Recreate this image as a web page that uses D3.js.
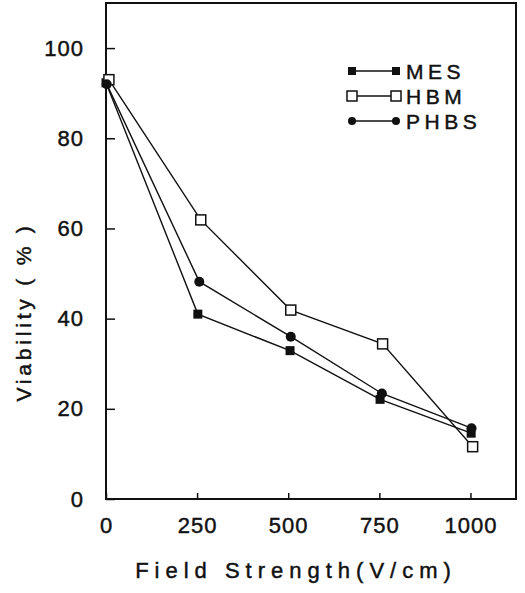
<!DOCTYPE html>
<html><head><meta charset="utf-8">
<script src="https://cdn.jsdelivr.net/npm/d3@7"></script>
<style>body{margin:0;background:#fff}svg{display:block}text{font-family:"Liberation Sans",Arial,sans-serif;fill:#111;stroke:#111;stroke-width:0.45px}</style>
</head><body><svg id="c" width="525" height="593"></svg>
<script>
const fieldStrength = [0, 250, 500, 750, 1000];
const mesX  = [0, 252, 505, 752, 1002];
const mesY  = [92.3, 41.0, 32.9, 22.1, 14.6];
const hbmX  = [8, 260, 507, 759, 1006];
const hbmY  = [93.0, 61.9, 41.9, 34.4, 11.6];
const phbsX = [2, 256, 507, 757, 1003];
const phbsY = [92.0, 48.2, 36.0, 23.4, 15.7];
const yTicks = [0, 20, 40, 60, 80, 100];
const seriesNames = ["MES", "HBM", "PHBS"];

const svg = d3.select("#c");
const x = d3.scaleLinear().domain([0, 1125]).range([106, 516]);
const y = d3.scaleLinear().domain([0, 110]).range([499, 3]);

// frame
svg.append("rect").attr("x", x(0)).attr("y", y(110)).attr("width", x(1125)-x(0)).attr("height", y(0)-y(110))
  .attr("fill","none").attr("stroke","#111").attr("stroke-width",2);

// y axis
const ya = svg.append("g").attr("transform",`translate(${x(0)},0)`)
  .call(d3.axisLeft(y).tickValues(yTicks).tickSize(-9).tickPadding(22).tickFormat(d3.format("d")));
ya.select(".domain").remove();
ya.selectAll("line").attr("stroke","#111").attr("stroke-width",1.5);
ya.selectAll("text").style("font-size","22px").style("letter-spacing","1px").attr("fill","#111");

// x axis
const xa = svg.append("g").attr("transform",`translate(0,${y(0)})`)
  .call(d3.axisBottom(x).tickValues(fieldStrength).tickSize(-6).tickPadding(18).tickFormat(d3.format("d")));
xa.select(".domain").remove();
xa.selectAll("line").attr("stroke","#111").attr("stroke-width",1.5);
xa.selectAll("text").style("font-size","22px").style("letter-spacing","1px").attr("fill","#111").attr("dy","0.71em");

// axis titles
svg.append("text").attr("x", 296).attr("y", 578).attr("text-anchor","middle")
  .style("font-size","22px").style("letter-spacing","6px").text("Field  Strength(V/cm)");
svg.append("text").attr("transform","translate(31,312) rotate(-90)").attr("text-anchor","middle")
  .style("font-size","21px").style("letter-spacing","3.8px").text("Viability ( % )");

const series = [
  {name: seriesNames[0], xs: mesX, ys: mesY, shape: "fsq"},
  {name: seriesNames[1], xs: hbmX, ys: hbmY, shape: "osq"},
  {name: seriesNames[2], xs: phbsX, ys: phbsY, shape: "circ"}
];
const line = d3.line().x(d => x(d[0])).y(d => y(d[1]));

function marker(g, cx, cy, shape) {
  if (shape === "fsq") g.append("rect").attr("x",cx-4.5).attr("y",cy-4.5).attr("width",9).attr("height",9).attr("fill","#111");
  else if (shape === "osq") g.append("rect").attr("x",cx-5).attr("y",cy-5).attr("width",10).attr("height",10).attr("fill","#fff").attr("stroke","#111").attr("stroke-width",1.5);
  else g.append("circle").attr("cx",cx).attr("cy",cy).attr("r",5).attr("fill","#111");
}

series.forEach(s => {
  const pts = s.xs.map((v,i) => [v, s.ys[i]]);
  svg.append("path").datum(pts).attr("d", line).attr("fill","none").attr("stroke","#111").attr("stroke-width",1.4);
});
series.forEach(s => {
  const g = svg.append("g");
  s.xs.forEach((v,i) => marker(g, x(v), y(s.ys[i]), s.shape));
});

// legend
const leg = svg.append("g");
series.forEach((s,i) => {
  const ly = 71 + i*25;
  leg.append("line").attr("x1",352).attr("x2",396).attr("y1",ly).attr("y2",ly).attr("stroke","#111").attr("stroke-width",1.4);
  const g = leg.append("g");
  if (s.shape === "osq") { marker(g,352,ly,"osq"); marker(g,396,ly,"osq"); }
  else if (s.shape === "fsq") {
    g.append("rect").attr("x",348).attr("y",ly-4).attr("width",8).attr("height",8).attr("fill","#111");
    g.append("rect").attr("x",392).attr("y",ly-4).attr("width",8).attr("height",8).attr("fill","#111");
  } else {
    g.append("circle").attr("cx",352).attr("cy",ly).attr("r",4).attr("fill","#111");
    g.append("circle").attr("cx",396).attr("cy",ly).attr("r",4).attr("fill","#111");
  }
  leg.append("text").attr("x",406).attr("y",ly+7.5).style("font-size","21px").style("letter-spacing","4.5px").text(s.name);
});
</script></body></html>
